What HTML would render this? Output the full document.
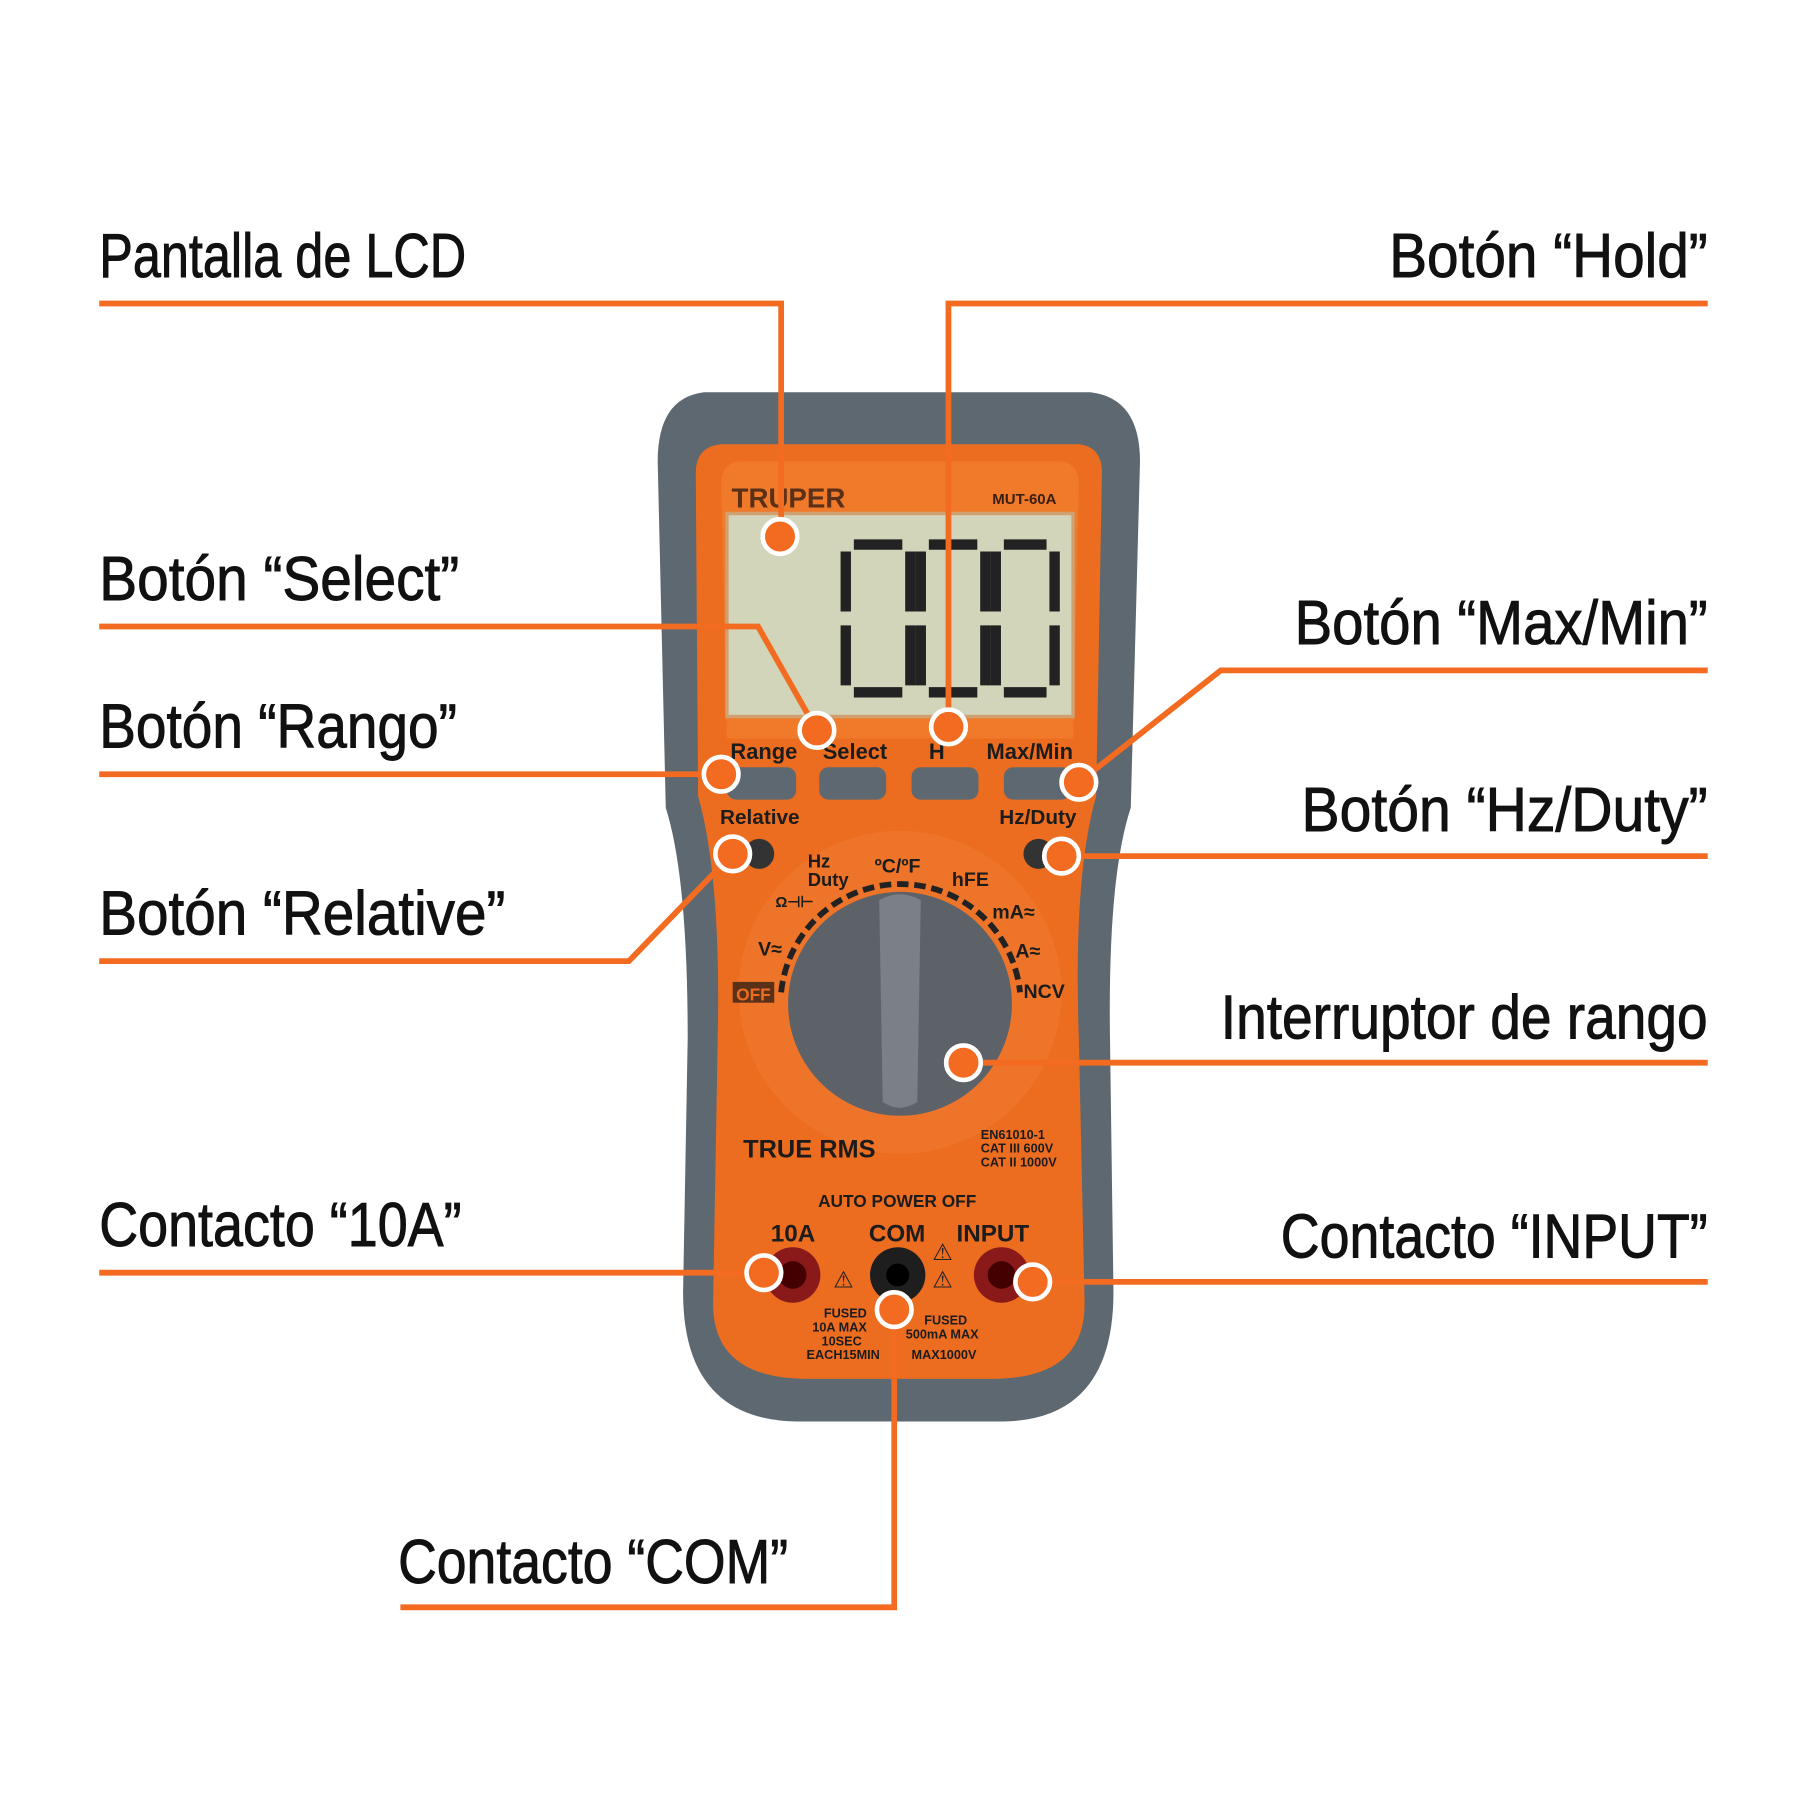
<!DOCTYPE html>
<html><head><meta charset="utf-8"><style>html,body{margin:0;padding:0;background:#fff}svg{display:block}</style></head><body>
<svg width="1800" height="1800" viewBox="0 0 1560 1560" xmlns="http://www.w3.org/2000/svg" font-family="'Liberation Sans Narrow','Liberation Sans',sans-serif">
<rect width="1560" height="1560" fill="#fff"/>
<path d="M610 340 L945 340 Q988 345 988 400 L980 700 Q960 760 962 900 L965 1120 Q965 1230 870 1232 L690 1232 Q592 1230 592 1120 L596 900 Q596 760 577 700 L570 400 Q570 345 610 340 Z" fill="#5d6870"/>
<path d="M625 385 L935 385 Q955 387 955 410 L950 690 Q930 760 935 900 L940 1130 Q940 1195 860 1195 L700 1195 Q618 1195 618 1130 L622 900 Q625 760 605 690 L603 410 Q603 387 625 385 Z" fill="#ec6d20"/>
<path d="M640 400 L920 400 Q935 402 935 420 L930 640 L630 640 L625 420 Q625 402 640 400 Z" fill="#f07a2a"/>
<circle cx="780" cy="860" r="140" fill="#ee7a30" opacity="0.6"/>
<text x="634" y="440" font-family="'Liberation Sans',sans-serif" font-weight="bold" font-size="24" fill="#5a3018">TRUPER</text>
<text x="860" y="437" font-family="'Liberation Sans',sans-serif" font-weight="bold" font-size="13" fill="#3a2010">MUT-60A</text>
<rect x="630" y="445" width="300" height="176" fill="#d2d5b9" stroke="#d0a070" stroke-width="3"/>
<g stroke="#222" stroke-width="9" stroke-linecap="butt" fill="none">
<path d="M740 472 H782 M733 478 V530 M789 478 V530 M733 542 V594 M789 542 V594 M740 600 H782"/>
<path d="M805 472 H847 M798 478 V530 M854 478 V530 M798 542 V594 M854 542 V594 M805 600 H847"/>
<path d="M870 472 H907 M863 478 V530 M914 478 V530 M863 542 V594 M914 542 V594 M870 600 H907"/>
</g>
<g font-family="'Liberation Sans Narrow','Liberation Sans',sans-serif" font-weight="bold" fill="#1c1c1c">
<text x="633" y="658" font-size="19">Range</text>
<text x="713" y="658" font-size="19">Select</text>
<text x="805" y="658" font-size="19">H</text>
<text x="855" y="658" font-size="19">Max/Min</text>
<text x="624" y="714" font-size="18">Relative</text>
<text x="866" y="714" font-size="18">Hz/Duty</text>
<text x="700" y="752" font-size="16">Hz</text><text x="700" y="768" font-size="16">Duty</text>
<text x="758" y="756" font-size="17">ºC/ºF</text>
<text x="825" y="768" font-size="17">hFE</text>
<text x="860" y="796" font-size="17">mA≈</text>
<text x="880" y="830" font-size="17">A≈</text>
<text x="887" y="865" font-size="17">NCV</text>
<text x="657" y="828" font-size="17">V≈</text>
<text x="672" y="786" font-size="13">Ω⊣⊢</text>
<text x="644" y="1003" font-size="22">TRUE RMS</text>
<text x="850" y="987" font-size="11">EN61010-1</text>
<text x="850" y="999" font-size="11">CAT III 600V</text>
<text x="850" y="1011" font-size="11">CAT II 1000V</text>
<text x="709" y="1046" font-size="15">AUTO POWER OFF</text>
<text x="668" y="1076" font-size="21">10A</text>
<text x="753" y="1076" font-size="21">COM</text>
<text x="829" y="1076" font-size="21">INPUT</text>
<text x="714" y="1142" font-size="11">FUSED</text>
<text x="704" y="1154" font-size="11">10A MAX</text>
<text x="712" y="1166" font-size="11">10SEC</text>
<text x="699" y="1178" font-size="11">EACH15MIN</text>
<text x="801" y="1148" font-size="11">FUSED</text>
<text x="785" y="1160" font-size="11">500mA MAX</text>
<text x="790" y="1178" font-size="11">MAX1000V</text>
</g>
<rect x="635" y="851" width="36" height="18" fill="#5a3018"/>
<text x="638" y="867" font-family="'Liberation Sans',sans-serif" font-weight="bold" font-size="15" fill="#ec6d20">OFF</text>
<g fill="#5d6870">
<rect x="630" y="665" width="60" height="28" rx="8"/><rect x="710" y="665" width="58" height="28" rx="8"/><rect x="790" y="665" width="58" height="28" rx="8"/><rect x="870" y="665" width="58" height="28" rx="8"/>
</g>
<circle cx="658" cy="740" r="13" fill="#333"/><circle cx="900" cy="740" r="13" fill="#333"/>
<path d="M677 860 A104 104 0 0 1 884 860" fill="none" stroke="#222" stroke-width="5" stroke-dasharray="10 5"/>
<circle cx="780" cy="870" r="97" fill="#5d6268"/>
<path d="M762 780 Q780 770 798 780 L795 955 Q780 965 765 955 Z" fill="#7a8086"/>
<circle cx="687" cy="1105" r="24" fill="#8a1a1a"/><circle cx="687" cy="1105" r="12" fill="#400"/>
<circle cx="778" cy="1105" r="24" fill="#1e1e1e"/><circle cx="778" cy="1105" r="10" fill="#000"/>
<circle cx="868" cy="1105" r="24" fill="#8a1a1a"/><circle cx="868" cy="1105" r="12" fill="#400"/>
<text x="722" y="1116" font-size="20" fill="#222">⚠</text>
<text x="808" y="1092" font-size="20" fill="#222">⚠</text>
<text x="808" y="1116" font-size="20" fill="#222">⚠</text>
<g fill="none" stroke="#f26b21" stroke-width="5">
<polyline points="86,263 677,263 677,465"/>
<polyline points="1480,263 822,263 822,630"/>
<polyline points="86,543 657,543 708,633"/>
<polyline points="1480,581 1058,581 935,678"/>
<polyline points="86,671 625,671"/>
<polyline points="1480,742 920,742"/>
<polyline points="86,833 545,833 635,740"/>
<polyline points="1480,921 835,921"/>
<polyline points="86,1103 662,1103"/>
<polyline points="1480,1111 895,1111"/>
<polyline points="347,1393 775,1393 775,1135"/>
</g>
<g fill="#f26b21" stroke="#fff" stroke-width="4">
<circle cx="676" cy="465" r="15"/><circle cx="822" cy="630" r="15"/><circle cx="708" cy="633" r="15"/><circle cx="935" cy="678" r="15"/><circle cx="625" cy="671" r="15"/><circle cx="920" cy="742" r="15"/><circle cx="635" cy="740" r="15"/><circle cx="835" cy="921" r="15"/><circle cx="662" cy="1103" r="15"/><circle cx="895" cy="1111" r="15"/><circle cx="775" cy="1135" r="15"/>
</g>
<g font-size="54" fill="#111" stroke="#111" stroke-width="0.8">
<text x="86" y="240" textLength="318" lengthAdjust="spacingAndGlyphs">Pantalla de LCD</text>
<text x="1204" y="240" textLength="276" lengthAdjust="spacingAndGlyphs">Botón “Hold”</text>
<text x="86" y="520" textLength="312" lengthAdjust="spacingAndGlyphs">Botón “Select”</text>
<text x="1122" y="558" textLength="358" lengthAdjust="spacingAndGlyphs">Botón “Max/Min”</text>
<text x="86" y="648" textLength="310" lengthAdjust="spacingAndGlyphs">Botón “Rango”</text>
<text x="1128" y="720" textLength="352" lengthAdjust="spacingAndGlyphs">Botón “Hz/Duty”</text>
<text x="86" y="810" textLength="352" lengthAdjust="spacingAndGlyphs">Botón “Relative”</text>
<text x="1058" y="900" textLength="422" lengthAdjust="spacingAndGlyphs">Interruptor de rango</text>
<text x="86" y="1080" textLength="314" lengthAdjust="spacingAndGlyphs">Contacto “10A”</text>
<text x="1110" y="1090" textLength="370" lengthAdjust="spacingAndGlyphs">Contacto “INPUT”</text>
<text x="345" y="1372" textLength="338" lengthAdjust="spacingAndGlyphs">Contacto “COM”</text>
</g>
</svg>
</body></html>
